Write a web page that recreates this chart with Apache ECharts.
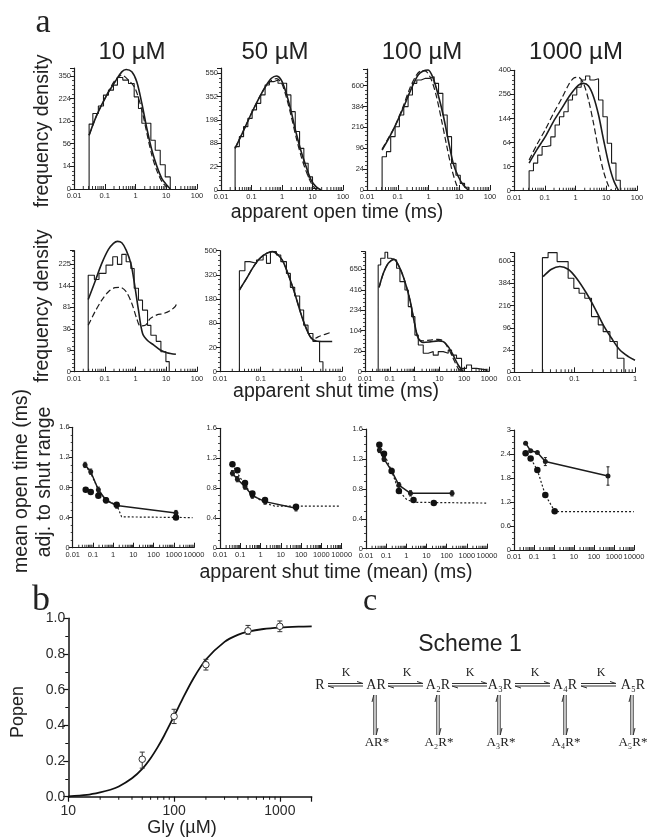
<!DOCTYPE html>
<html><head><meta charset="utf-8">
<style>html,body{margin:0;padding:0;background:#fff}#c{width:649px;height:840px;filter:blur(0.45px)}</style>
<script src="https://cdn.jsdelivr.net/npm/echarts@6/dist/echarts.min.js"></script>
</head><body><div id="c"></div>
<script>
// ---------- y tick labels (square-root frequency axes) ----------
const yT10o=[0,14,56,126,224,350], yT50o=[0,22,88,198,352,550], yT100o=[0,24,96,216,384,600], yT1000o=[0,16,64,144,256,400];
const yT10s=[0,9,36,81,144,225], yT50s=[0,20,80,180,320,500], yT100s=[0,26,104,234,416,650], yT1000s=[0,24,96,216,384,600];
// ---------- apparent open time ----------
const o10E=[.031,.041,.062,.091,.132,.192,.259,.386,.592,.906,1.25,1.61,3.16,4.38,6.37,9.27,13.5];
const o10H=[115,156,188,241,267,295,340,324,304,232,177,118,65,41,16,4];
const o10SX=[.031,.055,.116,.217,.358,.497,.76,1.1,1.61,2.34,3.41,4.96,7.2,10.5,13.5];
const o10SY=[79,149,241,314,375,390,375,314,200,100,41,14,3,.4,0];
const o10DX=[.031,.055,.116,.217,.358,.592,.975,1.61,2.34,3.41,4.96,7.2,10.5];
const o10DY=[79,149,241,324,354,324,276,170,85,31,9,1.5,.05];
const o50E=[.029,.040,.055,.076,.105,.146,.201,.279,.386,.535,.74,1.03,1.42,1.96,2.72,3.77,5.2,7.2,10,13.8];
const o50H=[76,115,162,207,259,303,365,445,474,488,460,460,365,248,138,70,29,7,.1];
const o50SX=[.029,.053,.1,.187,.308,.449,.653,.95,1.38,2,2.93,4.27,6.2,9.05,13.2,19];
const o50SY=[70,138,238,352,445,504,525,488,378,248,130,59,22,4,.4,0];
const o50DX=[.029,.053,.1,.187,.308,.449,.653,.95,1.38,2,2.93,4.27,6.2,9.05,13.2];
const o50DY=[70,138,238,352,440,485,500,465,350,220,110,45,14,2,0];
const o100E=[.031,.043,.059,.082,.113,.157,.217,.301,.417,.577,.798,1.1,1.53,2.12,2.93,4.06,5.62,7.8,10.8,14.9,20.7];
const o100H=[61,81,157,221,310,383,497,627,667,687,687,708,627,515,310,157,39,12,2.4,.4];
const o100SX=[.031,.048,.08,.149,.279,.46,.67,.975,1.42,2.07,3,4.38,6.37,9.27,13.5,19.6];
const o100SY=[88,138,221,367,569,729,780,794,687,497,310,138,39,10,1.4,0];
const o100DX=[.031,.048,.08,.149,.246,.406,.59,.86,1.25,1.82,2.65,3.86,5.62,8.2,10.5];
const o100DY=[92,145,221,383,569,729,785,772,667,480,270,112,26,1.4,0];
const o1000E=[.031,.043,.059,.082,.113,.157,.217,.301,.417,.577,.798,1.1,1.53,2.12,2.93,4.06,5.62,7.8,10.8,14.9,20.7,28.6];
const o1000H=[11,21,35,54,56,80,119,151,172,227,253,295,338,363,338,346,227,151,62,21,3];
const o1000SX=[.031,.055,.103,.192,.358,.67,1.25,1.82,2.65,3.86,5.62,8.2,11.9,17.3,25.2];
const o1000SY=[21,46,80,132,187,253,308,318,303,244,158,71,21,3,0];
const o1000DX=[.031,.055,.103,.192,.358,.59,.86,1.25,1.82,2.65,3.86,5.62,8.2,11.9,15.3];
const o1000DY=[26,58,102,165,236,308,349,355,318,227,125,46,10,.6,0];
// ---------- apparent shut time ----------
const s10E=[.029,.046,.065,.11,.182,.259,.358,.497,.705,.906,1.25,1.69,2.46,3.16,4.72,6.7,9.75,12.5];
const s10H=[182,166,189,222,258,225,269,236,208,136,100,74,42,26,18,7.8,2];
const s10SX=[.029,.048,.08,.132,.192,.259,.358,.497,.705,.906,1.25,1.69,2.46,3.86,6.37,10.5,20.6];
const s10SY=[102,158,229,292,322,332,325,289,229,158,74,29,19,14,9.2,7,5.9];
const s10DX=[.029,.048,.08,.132,.217,.316,.497,.76,1.1,1.42,2.07,3,4.96,8.2,13.5,19.6,22];
const s10DY=[42,70,100,125,138,139,125,91,55,41,42,55,63,66,73,83,91];
const s50E=[.03,.041,.054,.079,.115,.139,.174,.244,.312,.43,.538,.687,.91,1.14,1.46,1.93,2.81,3.4];
const s50H=[348,414,401,426,465,401,492,465,414,330,243,196,130,74,50,31,3.4];
const s50SX=[.03,.045,.065,.095,.139,.195,.268,.356,.518,.687,1,1.32,1.76,2.33,3.72,5.74];
const s50SY=[228,297,372,438,478,492,465,414,297,210,110,64,38,32,31,31];
const s50DX=[.03,.045,.065,.095,.139,.195,.268,.356,.518,.687,1,1.32,1.76,2.12,2.81,5.74];
const s50DY=[228,297,372,438,478,492,465,414,297,210,110,64,39,38,43,54];
const s100E=[.034,.043,.064,.082,.111,.188,.256,.408,.556,.757,1.03,1.41,2.23,3.55,5.65,8.97,14.3,22.7,30.9,49,78,124,197,314,792];
const s100H=[706,798,884,798,775,663,503,414,263,188,83,44,21,25,17,25,21,29,17,11,.7,2.8,.7,.2];
const s100SX=[.037,.055,.087,.147,.256,.408,.649,1.03,1.41,2.23,4.14,8.97,14.3,22.7,36,57,91];
const s100SY=[441,600,728,783,663,503,319,135,69,53,55,59,56,39,17,2.8,0];
const s100DX=[.037,.055,.087,.147,.256,.408,.649,1.03,1.41,2.23,4.14,8.97,14.3,22.7,36,57,78];
const s100DY=[441,600,728,783,663,503,319,135,69,59,62,65,59,34,11,.7,0];
const s1000E=[.0295,.0366,.0516,.0785,.0975,.119,.148,.191,.247,.298,.385,.509,.657];
const s1000H=[636,693,593,428,341,302,265,150,109,80,46,9.5];
const s1000SX=[.0303,.0416,.0572,.0785,.108,.158,.217,.298,.41,.564,.776,1];
const s1000SY=[443,514,541,514,428,302,198,109,56,24,12,7];
// ---------- mean open time vs adjacent shut time ----------
const m10AX=[.041,.078,.186,.444,1.5,1280], m10AY=[1.10,1.01,.77,.63,.56,.46];
const m10BX=[.044,.078,.186,.444,1.5,1280], m10BY=[.77,.74,.69,.63,.57,.40];
const m10DX=[.041,.078,.186,.444,1.5,2.63,8500], m10DY=[1.10,.99,.77,.63,.57,.41,.40];
const m50AX=[.041,.072,.171,.394,1.66,56], m50AY=[1.0,.92,.82,.70,.62,.53];
const m50BX=[.041,.072,.171,.394,1.66,56], m50BY=[1.12,1.04,.87,.73,.64,.55];
const m50DX=[.041,.072,.171,.394,1.66,5,8000], m50DY=[1.12,1.0,.84,.71,.60,.56,.56];
const m100AX=[.046,.078,.186,.428,1.61,185], m100AY=[1.32,1.20,1.04,.85,.74,.74];
const m100BX=[.046,.078,.186,.428,2.27,23], m100BY=[1.39,1.27,1.04,.77,.65,.61];
const m100DX=[.046,.078,.186,.428,1.02,2.27,9100], m100DY=[1.39,1.27,1.04,.77,.66,.62,.61];
const m1000AX=[.038,.068,.147,.369,500], m1000AY=[2.67,2.48,2.44,2.21,1.85];
const m1000Err=[.1,.23];
const m1000BX=[.038,.068,.147,.368,1.08], m1000BY=[2.42,2.29,2.0,1.375,.97];
const m1000DX=[.038,.068,.147,.368,1.08,1.92,9800], m1000DY=[2.42,2.29,2.0,1.375,.97,.96,.96];
// ---------- Popen ----------
const popX=[50,100,200,500,1000], popY=[.21,.45,.74,.93,.955], popLo=[.16,.41,.71,.91,.925], popHi=[.25,.49,.77,.96,.985];
const fitX=[10,15,20,25,30,40,50,60,70,80,100,120,150,200,300,400,500,700,1000,1500,2000];
const fitY=[.002,.01,.024,.039,.057,.103,.156,.216,.278,.339,.452,.547,.656,.769,.868,.907,.925,.94,.948,.953,.955];
// ---------- tick text ----------
const popYTicks=['0.0','0.2','0.4','0.6','0.8','1.0'];
const titles=['10 µM','50 µM','100 µM','1000 µM'];

const INK='#1c1c1c', TXT='#2a2a2a', SANS='"Liberation Sans",Arial,sans-serif', SERIF='"Liberation Serif","Times New Roman",serif';
const grids=[],xAxes=[],yAxes=[],seriesList=[];
const zip=(a,b)=>a.map((v,i)=>[v,b[i]]);
const sq=v=>Math.sqrt(v);
function minorX(lo,hi){const r=[];for(let d=lo;d<hi;d*=10)for(let m=2;m<=9;m++){const v=+(d*m).toPrecision(3);if(v<hi)r.push([v,0]);}return r;}
function baseAxes(box,xMax,yAxis,xMin){
  const i=grids.length;
  grids.push({left:box[0],top:box[2],width:box[1]-box[0],height:box[3]-box[2],containLabel:false});
  xAxes.push({type:'log',logBase:10,gridIndex:i,min:xMin||.01,max:xMax,
    axisLine:{show:true,onZero:false,lineStyle:{color:INK,width:1.2}},
    axisTick:{show:true,inside:true,length:5,lineStyle:{color:INK,width:1}},
    minorTick:{show:false},splitLine:{show:false},minorSplitLine:{show:false},
    axisLabel:{show:true,fontSize:7.5,fontFamily:SANS,color:TXT,margin:3,hideOverlap:false,showMinLabel:true,showMaxLabel:true,
      formatter:v=>String(+(+v).toPrecision(1))}});
  yAxes.push(Object.assign({gridIndex:i,splitLine:{show:false},
    axisLine:{show:true,onZero:false,lineStyle:{color:INK,width:1.2}},
    axisTick:{show:true,length:4,lineStyle:{color:INK,width:1}},
    minorTick:{show:true,splitNumber:5,length:2,lineStyle:{color:INK,width:.8}},
    minorSplitLine:{show:false}},yAxis));
  seriesList.push({type:'scatter',xAxisIndex:i,yAxisIndex:i,silent:true,symbol:'rect',symbolSize:[.9,3],symbolOffset:[0,-1.5],
    itemStyle:{color:INK,opacity:1},data:minorX(xMin||.01,xMax),clip:false,z:1});
  return i;
}
function sqrtAxis(ticks,topVal){
  const step=sq(ticks[1]);
  return {type:'value',min:0,max:sq(topVal),interval:step,
    axisLabel:{fontSize:7.5,fontFamily:SANS,color:TXT,margin:3,showMinLabel:true,showMaxLabel:true,
      formatter:v=>{const k=Math.round(v/step);return Math.abs(v/step-k)<1e-6&&k<ticks.length?String(ticks[k]):'';}}};
}
function addLine(i,pts,o){
  seriesList.push(Object.assign({type:'line',xAxisIndex:i,yAxisIndex:i,showSymbol:false,silent:true,clip:false,animation:false,data:pts},o));
}
function hist(i,E,H){
  const pts=[[E[0],0]];
  H.forEach((h,k)=>pts.push([E[k],sq(h)]));
  pts.push([E[E.length-1],0]);
  addLine(i,pts,{step:'end',lineStyle:{color:INK,width:1.1}});
}
const curve=(i,X,Y,dash)=>addLine(i,X.map((x,k)=>[x,sq(Y[k])]),{smooth:.3,
  lineStyle:{color:INK,width:dash?1.2:1.6,type:dash?[6,3]:'solid'}});

function freqPanel(box,xMax,ticks,topVal,E,H,SX,SY,DX,DY){
  const i=baseAxes(box,xMax,sqrtAxis(ticks,topVal));
  hist(i,E,H); curve(i,SX,SY,false); if(DX)curve(i,DX,DY,true);
}
freqPanel([74,197,68,189],100,yT10o,400,o10E,o10H,o10SX,o10SY,o10DX,o10DY);
freqPanel([221,343,68,190],100,yT50o,601,o50E,o50H,o50SX,o50SY,o50DX,o50DY);
freqPanel([367,490,69,190],100,yT100o,807,o100E,o100H,o100SX,o100SY,o100DX,o100DY);
freqPanel([514,637,70.3,190.7],100,yT1000o,400,o1000E,o1000H,o1000SX,o1000SY,o1000DX,o1000DY);
freqPanel([74,197,250.7,371.7],100,yT10s,286,s10E,s10H,s10SX,s10SY,s10DX,s10DY);
freqPanel([220,342,250.7,371.7],10,yT50s,500,s50E,s50H,s50SX,s50SY,s50DX,s50DY);
freqPanel([365,489,251.7,371.7],1000,yT100s,893,s100E,s100H,s100SX,s100SY,s100DX,s100DY);
freqPanel([514,635,252.7,372.3],1,yT1000s,692,s1000E,s1000H,s1000SX,s1000SY);

function errBars(i,rows,cap,color,width){
  seriesList.push({type:'custom',xAxisIndex:i,yAxisIndex:i,silent:true,clip:false,z:3,data:rows,encode:{x:0,y:[1,2]},
    renderItem:(p,api)=>{
      const a=api.coord([api.value(0),api.value(1)]),b=api.coord([api.value(0),api.value(2)]);
      const st={stroke:color,lineWidth:width,fill:null};
      return {type:'group',children:[
        {type:'line',shape:{x1:a[0],y1:a[1],x2:b[0],y2:b[1]},style:st},
        {type:'line',shape:{x1:a[0]-cap,y1:a[1],x2:a[0]+cap,y2:a[1]},style:st},
        {type:'line',shape:{x1:b[0]-cap,y1:b[1],x2:b[0]+cap,y2:b[1]},style:st}]};
    }});
}
function meanPanel(box,yMax,step,minorN,AX,AY,BX,BY,DX,DY,aErr){
  const i=baseAxes(box,10000,{type:'value',min:0,max:yMax,interval:step,
    axisLabel:{fontSize:7.5,fontFamily:SANS,color:TXT,margin:3,formatter:v=>v===0?'0':String(+v.toFixed(1))},
    minorTick:{show:true,splitNumber:minorN,length:2,lineStyle:{color:INK,width:.8}}});
  addLine(i,zip(DX,DY),{lineStyle:{color:INK,width:1.2,type:[2,2]}});
  seriesList.push({type:'line',xAxisIndex:i,yAxisIndex:i,silent:true,clip:false,data:zip(AX,AY),showSymbol:true,symbol:'circle',symbolSize:5,
    itemStyle:{color:INK,opacity:1},lineStyle:{color:INK,width:1.5}});
  seriesList.push({type:'scatter',xAxisIndex:i,yAxisIndex:i,silent:true,clip:false,data:zip(BX,BY),symbol:'circle',symbolSize:6.5,itemStyle:{color:'#111',opacity:1},z:4});
  errBars(i,aErr||AX.map((x,k)=>[x,AY[k]-.035,AY[k]+.035]),1.5,INK,1);
}
meanPanel([72.7,194,427.3,547.7],1.6,.4,4,m10AX,m10AY,m10BX,m10BY,m10DX,m10DY);
meanPanel([220,341.7,428.3,548],1.6,.4,4,m50AX,m50AY,m50BX,m50BY,m50DX,m50DY);
meanPanel([366,487,429,548.7],1.6,.4,4,m100AX,m100AY,m100BX,m100BY,m100DX,m100DY);
meanPanel([514,634,430,550],3,.6,4,m1000AX,m1000AY,m1000BX,m1000BY,m1000DX,m1000DY,
  [[m1000AX[3],m1000AY[3]-m1000Err[0],m1000AY[3]+m1000Err[0]],[m1000AX[4],m1000AY[4]-m1000Err[1],m1000AY[4]+m1000Err[1]]]);

// Popen panel
(function(){
  const i=grids.length;
  grids.push({left:68.3,top:618.3,width:243.4,height:178.4});
  xAxes.push({type:'log',logBase:10,gridIndex:i,min:10,max:2000,
    axisLine:{show:true,onZero:false,lineStyle:{color:'#111',width:1.5}},
    axisTick:{show:true,length:5,lineStyle:{color:'#111',width:1.2}},splitLine:{show:false},
    axisLabel:{fontSize:14,fontFamily:SANS,color:TXT,margin:7,showMaxLabel:true,formatter:v=>+v===2000?'':String(Math.round(v))}});
  yAxes.push({type:'value',gridIndex:i,min:0,max:1,interval:.2,splitLine:{show:false},
    axisLine:{show:true,onZero:false,lineStyle:{color:'#111',width:1.5}},
    axisTick:{show:true,length:5,lineStyle:{color:'#111',width:1.2}},
    minorTick:{show:true,splitNumber:2,length:3,lineStyle:{color:'#111',width:1}},
    axisLabel:{fontSize:14,fontFamily:SANS,color:TXT,margin:3,formatter:v=>popYTicks[Math.round(v*5)]||''}});
  seriesList.push({type:'scatter',xAxisIndex:i,yAxisIndex:i,silent:true,symbol:'rect',symbolSize:[1,3],symbolOffset:[0,1.5],
    itemStyle:{color:'#111',opacity:1},data:minorX(10,2000),clip:false});
  addLine(i,zip(fitX,fitY),{smooth:.3,z:2,lineStyle:{color:'#111',width:1.8}});
  errBars(i,popX.map((x,k)=>[x,popLo[k],popHi[k]]),2.5,'#333',1);
  seriesList.push({type:'scatter',xAxisIndex:i,yAxisIndex:i,silent:true,clip:false,data:zip(popX,popY),symbol:'circle',symbolSize:6.5,z:4,
    itemStyle:{color:'#fff',borderColor:'#333',borderWidth:1,opacity:1}});
})();

// text and scheme
const gfx=[];
const txt=(t,x,y,size,o={})=>gfx.push({type:'text',x,y,rotation:o.rot?Math.PI/2:0,silent:true,z:20,
  style:{text:t,x:0,y:0,fill:o.fill||'#222',font:`${size}px ${o.fam||SANS}`,textAlign:'center',textVerticalAlign:'middle'}});
txt('a',43,23,34,{fam:SERIF});txt('b',41,601,36,{fam:SERIF});txt('c',370,602,32,{fam:SERIF});
[132,275,422,576].forEach((x,k)=>txt(titles[k],x,52,24));
txt('frequency density',43,131,19.5,{rot:1});
txt('frequency density',43,306,19.5,{rot:1});
txt('mean open time (ms)',22,481,19.5,{rot:1});
txt('adj. to shut range',45,482,19.5,{rot:1});
txt('apparent open time (ms)',337,213,19.5);
txt('apparent shut time (ms)',336,392,19.5);
txt('apparent shut time (mean) (ms)',336,573,19.5);
txt('Popen',18,712,18,{rot:1});
txt('Gly (µM)',182,828,18);
txt('Scheme 1',470,645,23);
const stateTop=['R','AR','A₂R','A₃R','A₄R','A₅R'], stateTopX=[320,376,438,500,565,633];
stateTop.forEach((t,k)=>txt(t,stateTopX[k],685,14,{fam:SERIF}));
[346,407,470,535,601].forEach(x=>txt('K',x,673,12,{fam:SERIF}));
['AR*','A₂R*','A₃R*','A₄R*','A₅R*'].forEach((t,k)=>txt(t,[377,439,501,566,633][k],743,13,{fam:SERIF}));
const poly=(pts)=>gfx.push({type:'polyline',silent:true,z:20,shape:{points:pts},style:{stroke:'#333',lineWidth:1,fill:null}});
[[328,363],[388,423],[452,487],[515,550],[581,616]].forEach(([a,b])=>{
  poly([[a,683.5],[b,683.5],[b-6,681.5]]);
  poly([[b,686],[a,686],[a+6,688]]);
});
[375,438,499,565,632].forEach(x=>{
  poly([[x-1.2,735],[x-1.2,695],[x-3,702]]);
  poly([[x+1.2,695],[x+1.2,735],[x+3,728]]);
});

const chart=echarts.init(document.getElementById('c'),null,{renderer:'canvas'});
chart.setOption({animation:false,backgroundColor:'#fff',grid:grids,xAxis:xAxes,yAxis:yAxes,series:seriesList,graphic:gfx,tooltip:{show:false},legend:{show:false}});
</script></body></html>
